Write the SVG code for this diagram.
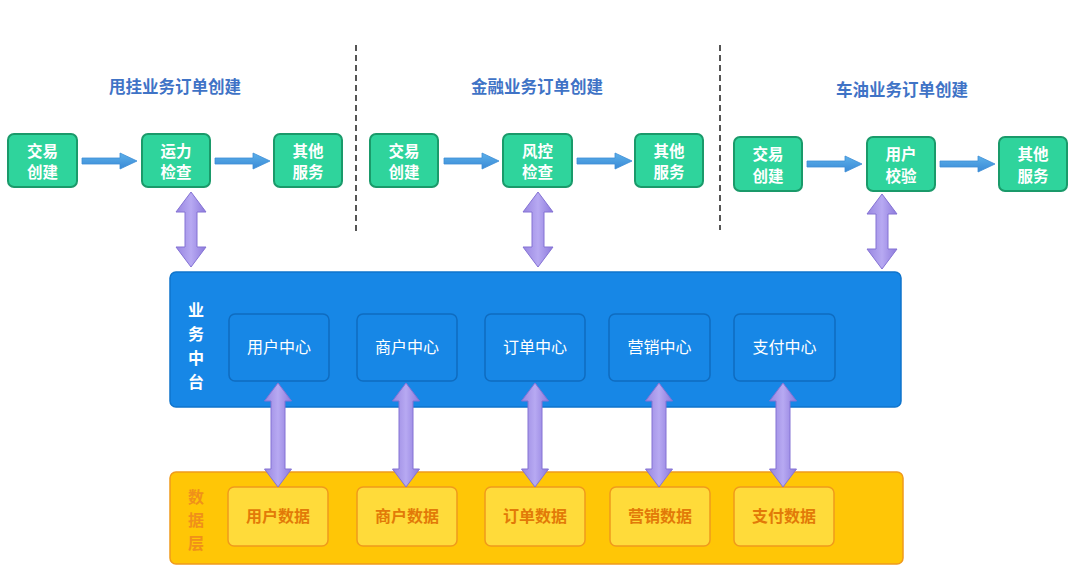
<svg xmlns="http://www.w3.org/2000/svg" width="1080" height="584" viewBox="0 0 1080 584">
<style>
text{font-family:"Noto Sans CJK SC","Noto Sans",sans-serif;text-anchor:middle}
.title{font-size:16.5px;font-weight:700;fill:#3f73c6}
.g rect{fill:#2fd49c;stroke:#1a9a6a;stroke-width:2}
.g text{fill:#ffffff;font-size:15.5px;font-weight:700}
.bc rect{fill:#1787e6;stroke:#0f6cc0;stroke-width:1.5}
.bc text{fill:#ffffff;font-size:16px}
.yc rect{fill:#ffdb3a;stroke:#f09a1c;stroke-width:1.5}
.yc text{fill:#e27a08;font-size:16px;font-weight:700}
.dash{stroke:#555;stroke-width:2;stroke-dasharray:6,4}
.ha{fill:url(#hg);stroke:#3d8ed6;stroke-width:0.8}
.va{fill:url(#pg);stroke:#8472d4;stroke-width:1}
</style>
<defs>
<linearGradient id="hg" x1="0" y1="0" x2="0" y2="1"><stop offset="0" stop-color="#5cb0ea"/><stop offset="1" stop-color="#3a8ad6"/></linearGradient>
<linearGradient id="pg" x1="0" y1="0" x2="1" y2="0"><stop offset="0" stop-color="#9886e0"/><stop offset="0.5" stop-color="#b7a9f2"/><stop offset="1" stop-color="#8d7adc"/></linearGradient>
<path id="harrow" d="M0,-3 L38,-3 L38,-8 L55,0 L38,8 L38,3 L0,3 Z"/>
<path id="varrowA" d="M0,0 L15,20 L6,20 L6,55 L15,55 L0,75 L-15,55 L-6,55 L-6,20 L-15,20 Z"/>
<path id="varrowB" d="M0,0 L13.5,18 L7,18 L7,86 L13.5,86 L0,104 L-13.5,86 L-7,86 L-7,18 L-13.5,18 Z"/>
</defs>
<rect width="1080" height="584" fill="#ffffff"/>

<g id="titles">
<text class="title" x="175" y="93">甩挂业务订单创建</text>
<text class="title" x="537" y="93">金融业务订单创建</text>
<text class="title" x="902" y="96">车油业务订单创建</text>
</g>
<g id="dividers">
<line class="dash" x1="356" y1="45" x2="356" y2="232"/>
<line class="dash" x1="720" y1="45" x2="720" y2="230"/>
</g>

<g id="platform">
<rect x="170" y="272" width="731" height="135" rx="6" fill="#1787e6" stroke="#0f74cc" stroke-width="1.5"/>
<text x="196" y="316" fill="#fff" font-size="16" font-weight="700">业</text>
<text x="196" y="340" fill="#fff" font-size="16" font-weight="700">务</text>
<text x="196" y="364" fill="#fff" font-size="16" font-weight="700">中</text>
<text x="196" y="388" fill="#fff" font-size="16" font-weight="700">台</text>
</g>
<g id="datalayer">
<rect x="170" y="472" width="733" height="92" rx="6" fill="#ffc606" stroke="#f09a1c" stroke-width="1.5"/>
<text x="196" y="503" fill="#f0901a" font-size="16" font-weight="700">数</text>
<text x="196" y="526" fill="#f0901a" font-size="16" font-weight="700">据</text>
<text x="196" y="549" fill="#f0901a" font-size="16" font-weight="700">层</text>
</g>

<g id="n1" class="g"><rect x="8" y="134" width="69" height="53" rx="6"/><text x="42.5" y="157">交易</text><text x="42.5" y="178">创建</text></g>
<g id="n2" class="g"><rect x="142" y="134" width="68" height="53" rx="6"/><text x="176" y="157">运力</text><text x="176" y="178">检查</text></g>
<g id="n3" class="g"><rect x="274" y="134" width="68" height="53" rx="6"/><text x="308" y="157">其他</text><text x="308" y="178">服务</text></g>
<g id="n4" class="g"><rect x="370" y="134" width="68" height="53" rx="6"/><text x="404" y="157">交易</text><text x="404" y="178">创建</text></g>
<g id="n5" class="g"><rect x="503" y="134" width="69" height="53" rx="6"/><text x="537.5" y="157">风控</text><text x="537.5" y="178">检查</text></g>
<g id="n6" class="g"><rect x="635" y="134" width="68" height="53" rx="6"/><text x="669" y="157">其他</text><text x="669" y="178">服务</text></g>
<g id="n7" class="g"><rect x="734" y="137" width="68" height="54" rx="6"/><text x="768" y="160">交易</text><text x="768" y="182">创建</text></g>
<g id="n8" class="g"><rect x="867" y="137" width="68" height="54" rx="6"/><text x="901" y="160">用户</text><text x="901" y="182">校验</text></g>
<g id="n9" class="g"><rect x="999" y="137" width="68" height="54" rx="6"/><text x="1033" y="160">其他</text><text x="1033" y="182">服务</text></g>

<g id="c1" class="bc"><rect x="229" y="314" width="100" height="67" rx="6"/><text x="279" y="353">用户中心</text></g>
<g id="c2" class="bc"><rect x="357" y="314" width="100" height="67" rx="6"/><text x="407" y="353">商户中心</text></g>
<g id="c3" class="bc"><rect x="485" y="314" width="100" height="67" rx="6"/><text x="535" y="353">订单中心</text></g>
<g id="c4" class="bc"><rect x="609" y="314" width="101" height="67" rx="6"/><text x="659.5" y="353">营销中心</text></g>
<g id="c5" class="bc"><rect x="734" y="314" width="101" height="67" rx="6"/><text x="784.5" y="353">支付中心</text></g>

<g id="d1" class="yc"><rect x="228" y="487" width="100" height="59" rx="6"/><text x="278" y="522">用户数据</text></g>
<g id="d2" class="yc"><rect x="357" y="487" width="100" height="59" rx="6"/><text x="407" y="522">商户数据</text></g>
<g id="d3" class="yc"><rect x="485" y="487" width="100" height="59" rx="6"/><text x="535" y="522">订单数据</text></g>
<g id="d4" class="yc"><rect x="610" y="487" width="100" height="59" rx="6"/><text x="660" y="522">营销数据</text></g>
<g id="d5" class="yc"><rect x="734" y="487" width="100" height="59" rx="6"/><text x="784" y="522">支付数据</text></g>

<g id="connectors">
<use href="#harrow" class="ha" transform="translate(82,161)"/>
<use href="#harrow" class="ha" transform="translate(215,161)"/>
<use href="#harrow" class="ha" transform="translate(444,161)"/>
<use href="#harrow" class="ha" transform="translate(577,161)"/>
<use href="#harrow" class="ha" transform="translate(807,164)"/>
<use href="#harrow" class="ha" transform="translate(940,164)"/>
<use href="#varrowA" class="va" transform="translate(191,192)"/>
<use href="#varrowA" class="va" transform="translate(538,192)"/>
<use href="#varrowA" class="va" transform="translate(882,194)"/>
<use href="#varrowB" class="va" transform="translate(278,383)"/>
<use href="#varrowB" class="va" transform="translate(406,383)"/>
<use href="#varrowB" class="va" transform="translate(535,383)"/>
<use href="#varrowB" class="va" transform="translate(659,383)"/>
<use href="#varrowB" class="va" transform="translate(783,383)"/>
</g>
</svg>
